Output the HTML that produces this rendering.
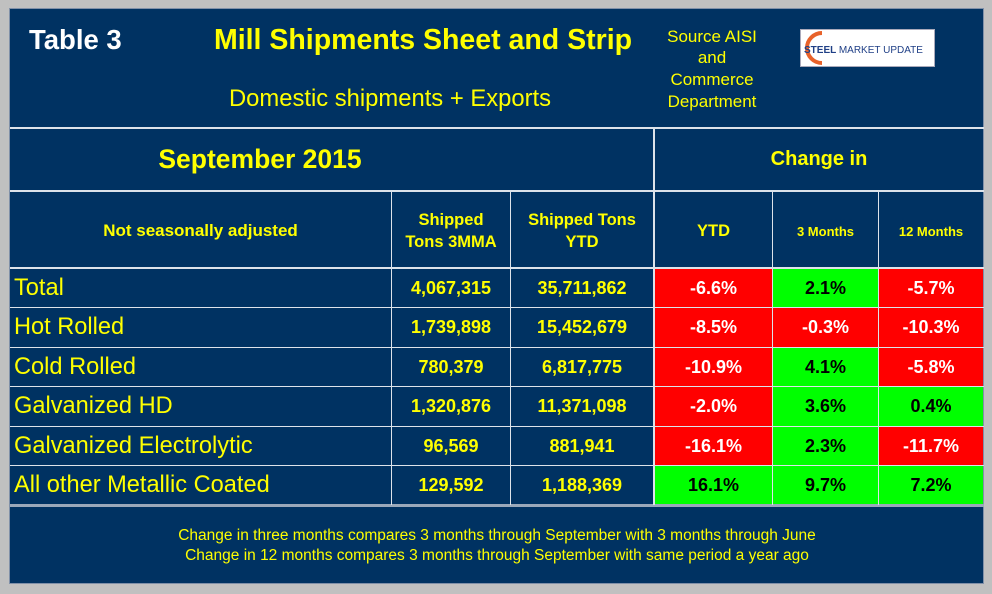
<!DOCTYPE html>
<html><head><style>
body{margin:0;width:992px;height:594px;background:#c0c0c0;position:relative;overflow:hidden;font-family:"Liberation Sans",Arial,sans-serif}
.a{position:absolute;box-sizing:border-box}
.p{background:#003262}
.h{background:#dde3ea}
.t{position:absolute;display:flex;align-items:center;justify-content:center;text-align:center;font-weight:bold;color:#ffff00;white-space:nowrap}
.l{justify-content:flex-start;padding-left:4px;font-weight:normal;font-size:23.6px}
.r{background:#ff0000;color:#fff}
.g{background:#00ff00;color:#000}
</style></head><body>
<div class="a p" style="left:9px;top:8px;width:975px;height:576px;border:1px solid #8090a8"></div>
<div class="a h" style="left:10px;top:127px;width:974px;height:2px"></div>
<div class="a h" style="left:10px;top:190px;width:974px;height:2px"></div>
<div class="a h" style="left:10px;top:267px;width:974px;height:2px"></div>
<div class="a h" style="left:10px;top:307px;width:974px;height:1px"></div>
<div class="a h" style="left:10px;top:347px;width:974px;height:1px"></div>
<div class="a h" style="left:10px;top:386px;width:974px;height:1px"></div>
<div class="a h" style="left:10px;top:426px;width:974px;height:1px"></div>
<div class="a h" style="left:10px;top:465px;width:974px;height:1px"></div>
<div class="a" style="left:10px;top:504px;width:974px;height:3px;background:#9aa8ba"></div>
<div class="a h" style="left:653px;top:128px;width:2px;height:377px"></div>
<div class="a h" style="left:391px;top:191px;width:1px;height:314px"></div>
<div class="a h" style="left:510px;top:191px;width:1px;height:314px"></div>
<div class="a h" style="left:772px;top:191px;width:1px;height:314px"></div>
<div class="a h" style="left:878px;top:191px;width:1px;height:314px"></div>

<div class="t" style="left:29px;top:22px;height:36px;color:#fff;font-size:27.5px">Table 3</div>
<div class="t" style="left:200px;top:21px;width:446px;height:38px;font-size:28.5px">Mill Shipments Sheet and Strip</div>
<div class="t" style="left:190px;top:83px;width:400px;height:32px;font-size:23.8px;font-weight:normal">Domestic shipments + Exports</div>
<div class="t" style="left:652px;top:25px;width:120px;height:88px;font-size:17px;font-weight:normal;line-height:21.7px">Source AISI<br>and<br>Commerce<br>Department</div>
<div class="a" style="left:800px;top:29px;width:135px;height:38px;background:#fff;border:1px solid #aab"></div>
<svg class="a" style="left:800px;top:29px" width="135" height="38"><path d="M22 4 A15 15 0 1 0 22 34" fill="none" stroke="#e8622a" stroke-width="4"/><text x="4" y="24" font-family="Liberation Sans" font-weight="bold" font-size="10" fill="#1f3f86">STEEL <tspan font-weight="normal">MARKET UPDATE</tspan></text></svg>

<div class="t" style="left:60px;top:129px;width:400px;height:61px;font-size:26.5px">September 2015</div>
<div class="t" style="left:655px;top:129px;width:328px;height:61px;font-size:20px">Change in</div>

<div class="t" style="left:10px;top:192px;width:381px;height:78px;font-size:17px">Not seasonally adjusted</div>
<div class="t" style="left:392px;top:192px;width:118px;height:78px;font-size:16.5px;line-height:22px">Shipped<br>Tons 3MMA</div>
<div class="t" style="left:511px;top:192px;width:142px;height:78px;font-size:16.5px;line-height:22px">Shipped Tons<br>YTD</div>
<div class="t" style="left:655px;top:192px;width:117px;height:78px;font-size:16.5px">YTD</div>
<div class="t" style="left:773px;top:192px;width:105px;height:78px;font-size:13px">3 Months</div>
<div class="t" style="left:879px;top:192px;width:104px;height:78px;font-size:13px">12 Months</div>

<div class="t l" style="left:10px;top:269px;width:381px;height:38px">Total</div>
<div class="t" style="left:392px;top:269px;width:118px;height:38px;font-size:18px">4,067,315</div>
<div class="t" style="left:511px;top:269px;width:142px;height:38px;font-size:18px">35,711,862</div>
<div class="t r" style="left:655px;top:269px;width:117px;height:38px;font-size:18px">-6.6%</div>
<div class="t g" style="left:773px;top:269px;width:105px;height:38px;font-size:18px">2.1%</div>
<div class="t r" style="left:879px;top:269px;width:104px;height:38px;font-size:18px">-5.7%</div>

<div class="t l" style="left:10px;top:308px;width:381px;height:39px">Hot Rolled</div>
<div class="t" style="left:392px;top:308px;width:118px;height:39px;font-size:18px">1,739,898</div>
<div class="t" style="left:511px;top:308px;width:142px;height:39px;font-size:18px">15,452,679</div>
<div class="t r" style="left:655px;top:308px;width:117px;height:39px;font-size:18px">-8.5%</div>
<div class="t r" style="left:773px;top:308px;width:105px;height:39px;font-size:18px">-0.3%</div>
<div class="t r" style="left:879px;top:308px;width:104px;height:39px;font-size:18px">-10.3%</div>

<div class="t l" style="left:10px;top:348px;width:381px;height:38px">Cold Rolled</div>
<div class="t" style="left:392px;top:348px;width:118px;height:38px;font-size:18px">780,379</div>
<div class="t" style="left:511px;top:348px;width:142px;height:38px;font-size:18px">6,817,775</div>
<div class="t r" style="left:655px;top:348px;width:117px;height:38px;font-size:18px">-10.9%</div>
<div class="t g" style="left:773px;top:348px;width:105px;height:38px;font-size:18px">4.1%</div>
<div class="t r" style="left:879px;top:348px;width:104px;height:38px;font-size:18px">-5.8%</div>

<div class="t l" style="left:10px;top:387px;width:381px;height:39px">Galvanized HD</div>
<div class="t" style="left:392px;top:387px;width:118px;height:39px;font-size:18px">1,320,876</div>
<div class="t" style="left:511px;top:387px;width:142px;height:39px;font-size:18px">11,371,098</div>
<div class="t r" style="left:655px;top:387px;width:117px;height:39px;font-size:18px">-2.0%</div>
<div class="t g" style="left:773px;top:387px;width:105px;height:39px;font-size:18px">3.6%</div>
<div class="t g" style="left:879px;top:387px;width:104px;height:39px;font-size:18px">0.4%</div>

<div class="t l" style="left:10px;top:427px;width:381px;height:38px">Galvanized Electrolytic</div>
<div class="t" style="left:392px;top:427px;width:118px;height:38px;font-size:18px">96,569</div>
<div class="t" style="left:511px;top:427px;width:142px;height:38px;font-size:18px">881,941</div>
<div class="t r" style="left:655px;top:427px;width:117px;height:38px;font-size:18px">-16.1%</div>
<div class="t g" style="left:773px;top:427px;width:105px;height:38px;font-size:18px">2.3%</div>
<div class="t r" style="left:879px;top:427px;width:104px;height:38px;font-size:18px">-11.7%</div>

<div class="t l" style="left:10px;top:466px;width:381px;height:38px">All other Metallic Coated</div>
<div class="t" style="left:392px;top:466px;width:118px;height:38px;font-size:18px">129,592</div>
<div class="t" style="left:511px;top:466px;width:142px;height:38px;font-size:18px">1,188,369</div>
<div class="t g" style="left:655px;top:466px;width:117px;height:38px;font-size:18px">16.1%</div>
<div class="t g" style="left:773px;top:466px;width:105px;height:38px;font-size:18px">9.7%</div>
<div class="t g" style="left:879px;top:466px;width:104px;height:38px;font-size:18px">7.2%</div>

<div class="t" style="left:10px;top:525px;width:974px;height:42px;font-size:15.5px;font-weight:normal;line-height:20px">Change in three months compares 3 months through September with 3 months through June<br>Change in 12 months compares 3 months through September with same period a year ago</div>
</body></html>
